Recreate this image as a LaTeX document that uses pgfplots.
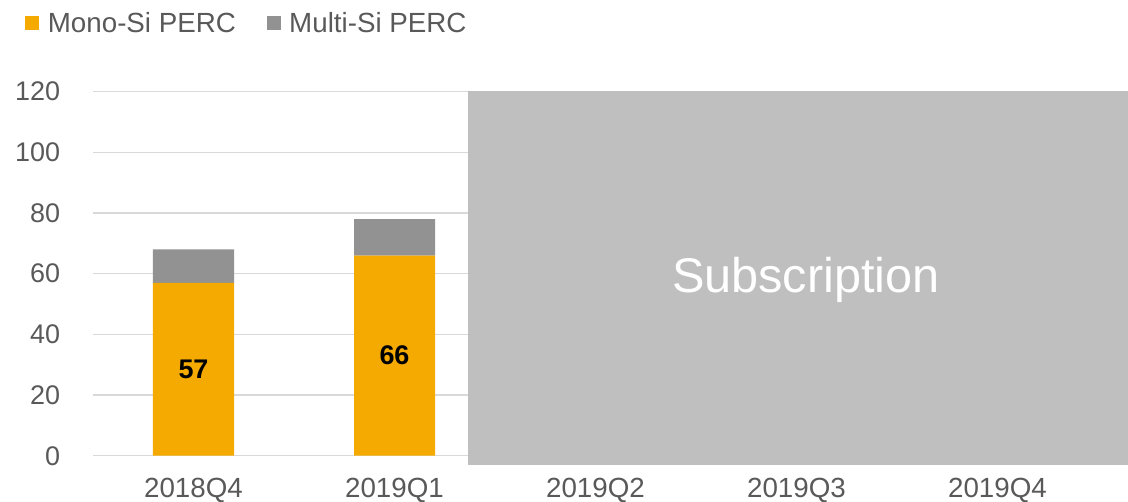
\documentclass[border=0pt]{standalone}
\usepackage{pgfplots}
\pgfplotsset{compat=1.18}
\usepackage{fontspec}
\setmainfont{Liberation Sans}
\definecolor{mono}{HTML}{F4AA00}
\definecolor{multi}{HTML}{929292}
\definecolor{boxgray}{HTML}{BFBFBF}
\definecolor{txt}{HTML}{595959}
\definecolor{grid}{HTML}{D9D9D9}
\begin{document}
\begin{tikzpicture}
\begin{axis}[
  name=ax,
  scale only axis,
  width=753.75pt, height=273pt,
  xmin=-0.5, xmax=4.5,
  ymin=0, ymax=120,
  ytick={0,20,...,120},
  xtick={0,1,2,3,4},
  xticklabels={2018Q4,2019Q1,2019Q2,2019Q3,2019Q4},
  ymajorgrids=true, xmajorgrids=false,
  y grid style={grid, line width=0.9pt},
  axis line style={draw=none},
  major tick length=0pt,
  tick style={draw=none},
  /pgf/number format/assume math mode=true,
  tick label style={text=txt, inner sep=0pt},
  yticklabel style={anchor=east, xshift=-24.5pt, font=\fontsize{20.2}{24}\selectfont},
  xticklabel style={anchor=north, yshift=-16.5pt, font=\fontsize{20.8}{24}\selectfont},
  ybar stacked,
  bar width=60.75pt,
  clip=false,
  legend columns=2,
  legend style={draw=none, fill=none, at={(-0.0677,1.19)}, anchor=west,
    inner sep=0pt, font=\fontsize{20.8}{24}\selectfont, text=txt,
    /tikz/every even column/.append style={column sep=23pt},
    nodes={inner sep=0pt, text depth=0pt}},
  legend cell align=left,
  legend image code/.code={\fill[#1] (0pt,-5.25pt) rectangle (10.5pt,5.25pt);},
]
\addplot[fill=mono, draw=none,
  nodes near coords,
  every node near coord/.append style={anchor=center, font=\fontsize{20.2}{24}\selectfont\bfseries, text=black}]
  coordinates {(0,57) (1,66)};
\addlegendentry{\hspace{6.5pt}Mono-Si PERC}
\addplot[fill=multi, draw=none] coordinates {(0,11) (1,12)};
\addlegendentry{\hspace{6.5pt}Multi-Si PERC}
\coordinate (b1) at (axis cs:1.366,-3.1);
\coordinate (b2) at (axis cs:4.649,120.4);
\coordinate (st) at (axis cs:3.047,57.9);
\end{axis}
\fill[boxgray] (b1) rectangle (b2);
\node[text=white, font=\fontsize{36.5}{40}\selectfont] at (st) {Subscription};
\pgfresetboundingbox
\path[use as bounding box] (-69.75pt,-34.7pt) rectangle (776.25pt,341.8pt);
\end{tikzpicture}
\end{document}
